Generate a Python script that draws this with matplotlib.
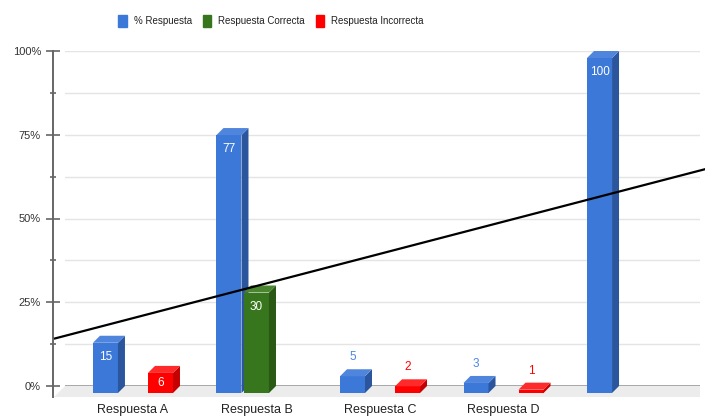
import matplotlib
matplotlib.use('Agg')
import matplotlib.pyplot as plt
from matplotlib.patches import Polygon, Patch
from matplotlib.ticker import PercentFormatter
import numpy as np

plt.rcParams['font.family'] = ['Liberation Sans', 'DejaVu Sans']

# data
categories = ['Respuesta A', 'Respuesta B', 'Respuesta C', 'Respuesta D', '']
series_names = ['% Respuesta', 'Respuesta Correcta', 'Respuesta Incorrecta']
pct_respuesta = [15, 77, 5, 3, 100]
correcta = [0, 30, 0, 0, 0]
incorrecta = [6, 0, 2, 1, 0]

front = ['#3c78d8', '#38761d', '#ff0000']
side = ['#2b569e', '#2a5916', '#c40000']
top = ['#4f85dd', '#4a8530', '#ff2a2a']
label_out = ['#4a86e8', '#38761d', '#ff0000']


def main():
    fig = plt.figure(figsize=(7.05, 4.17), dpi=100)
    ax = fig.add_axes([65 / 705, 31 / 417, 635 / 705, 335 / 417])
    ax.set_xlim(-0.607, 4.534)
    ax.set_ylim(0, 100)

    # fake 3d depth (bars and floor), in data units
    dx, dy = 7 / 123.5, 7 / 3.35
    fdx, fdy = 11 / 123.5, 11 / 3.35
    slot = 0.2227
    bw = 0.2024

    x0, x1 = ax.get_xlim()
    floor = Polygon([(x0, 0), (x1, 0), (x1, -fdy), (x0 - fdx, -fdy)],
                    closed=True, facecolor='#ececec', edgecolor='none',
                    clip_on=False, zorder=0)
    ax.add_patch(floor)

    ax.set_yticks(np.arange(0, 101, 25))
    ax.set_yticks(np.arange(12.5, 100, 25), minor=True)
    ax.yaxis.set_major_formatter(PercentFormatter(xmax=100, decimals=0))
    ax.grid(which='both', axis='y', color='#e4e4e4', lw=1, zorder=0)
    ax.axhline(0, color='#9a9a9a', lw=1.2, zorder=1)
    ax.set_axisbelow(True)

    for s in ['top', 'right', 'bottom']:
        ax.spines[s].set_visible(False)
    ax.spines['left'].set_position(('outward', 8.6))
    ax.spines['left'].set_bounds(-3.3, 100)
    ax.spines['left'].set_color('#666666')
    ax.spines['left'].set_linewidth(1.4)
    ax.tick_params(axis='y', which='major', direction='inout', length=9.4,
                   width=1.2, color='#666666', labelsize=8, labelcolor='#333333', pad=4)
    ax.tick_params(axis='y', which='minor', direction='inout', length=5,
                   width=1.2, color='#666666')

    ax.set_xticks(np.arange(len(categories)) - dx, labels=categories)
    ax.tick_params(axis='x', length=0, pad=13, labelsize=9, labelcolor='#222222')

    series = [pct_respuesta, correcta, incorrecta]
    for i in range(len(categories)):
        for j, vals in enumerate(series):
            v = vals[i]
            if v == 0:
                continue
            xc = i + (j - 1) * slot - dx
            xl, xr = xc - bw / 2, xc + bw / 2
            yb, yt = -dy, v - dy
            ax.add_patch(Polygon([(xl, yb), (xr, yb), (xr, yt), (xl, yt)],
                                 facecolor=front[j], edgecolor='none', clip_on=False, zorder=3))
            ax.add_patch(Polygon([(xr, yb), (xr + dx, 0), (xr + dx, v), (xr, yt)],
                                 facecolor=side[j], edgecolor='none', clip_on=False, zorder=3))
            ax.add_patch(Polygon([(xl, yt), (xl + dx, v), (xr + dx, v), (xr, yt)],
                                 facecolor=top[j], edgecolor='none', clip_on=False, zorder=3))
            if v >= 6:
                ly = max(yt - 4.2, v / 2 - dy)
                ax.text(xc, ly, str(v), color='white', fontsize=8.5,
                        ha='center', va='center', zorder=4)
            else:
                ax.text(xc, v + 3.6, str(v), color=label_out[j], fontsize=8.5,
                        ha='center', va='center', zorder=4)

    # linear trendline of % Respuesta
    coef = np.polyfit(np.arange(len(pct_respuesta)), pct_respuesta, 1)
    xs = np.array([-0.688, 4.575])
    ax.plot(xs, np.polyval(coef, xs), color='black', lw=1.6, clip_on=False, zorder=10)

    handles = [Patch(facecolor=c, edgecolor=c) for c in front]
    fig.legend(handles, series_names, loc='center', bbox_to_anchor=(271 / 705, 1 - 21 / 417),
               ncol=3, frameon=False, fontsize=7, handlelength=0.9, handleheight=1.4,
               handletextpad=0.7, columnspacing=1.1, labelcolor='#222222')

    fig.savefig('out.png', dpi=100)


if __name__ == "__main__":
    main()
